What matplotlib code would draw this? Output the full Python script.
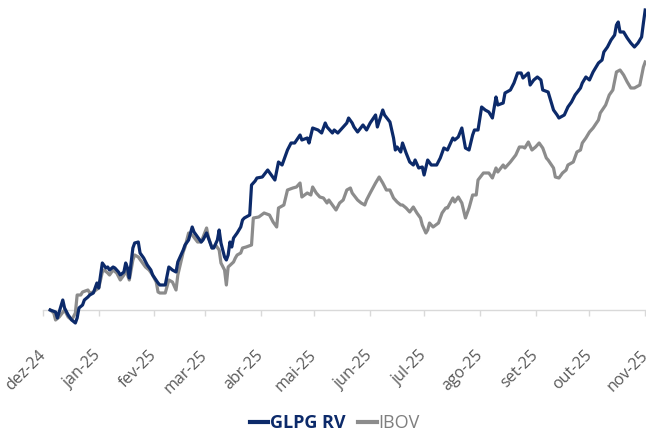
import matplotlib
matplotlib.use('Agg')
import matplotlib.pyplot as plt
import pandas as pd

plt.rcParams['font.family'] = ['Open Sans', 'DejaVu Sans']

start = pd.Timestamp('2024-12-01')

# days since 2024-12-01 / index (base 100)
glpg_days = [4, 7, 8, 9, 11, 12, 14, 16, 18, 19, 20, 22, 23, 25, 26, 28, 30, 31, 33, 35,
             36, 37, 39, 40, 42, 43, 45, 46, 47, 48, 50, 51, 53, 54, 56, 58, 60, 61, 64, 65,
             68, 70, 72, 74, 75, 78, 79, 81, 83, 84, 86, 88, 89, 91, 92, 94, 95, 97, 98, 99,
             101, 102, 103, 104, 105, 106, 108, 110, 111, 112, 115, 116, 118, 119, 122, 125, 127, 129, 131, 133,
             136, 138, 140, 143, 144, 147, 148, 150, 153, 155, 157, 158, 161, 162, 164, 167, 169, 170, 172, 173,
             175, 178, 180, 182, 185, 186, 189, 190, 193, 195, 196, 197, 199, 200, 202, 204, 206, 207, 209, 211,
             212, 214, 216, 219, 221, 223, 225, 228, 229, 231, 233, 235, 237, 239, 240, 242, 244, 246, 248, 250,
             252, 253, 256, 257, 260, 262, 264, 266, 267, 270, 271, 273, 275, 277, 278, 281, 282, 284, 286, 287,
             290, 292, 294, 296, 299, 300, 302, 304, 306, 309, 311, 312, 314, 316, 318, 319, 320, 321, 323, 325,
             327, 329, 331, 333, 334, 335]
glpg_vals = [100.0, 99.8, 99.2, 99.8, 101.0, 100.2, 99.5, 99.0, 98.7, 99.2, 100.2, 100.5, 101.0, 101.3, 101.5, 101.7, 102.7, 102.2, 104.7, 104.2,
             104.3, 104.0, 104.3, 104.2, 103.8, 103.5, 103.8, 104.7, 104.2, 103.2, 106.2, 106.7, 106.8, 105.7, 105.2, 104.5, 104.0, 103.5, 102.7, 102.5,
             102.5, 104.3, 104.0, 103.8, 104.8, 106.0, 106.5, 107.0, 108.3, 107.8, 107.3, 106.8, 107.0, 107.7, 107.2, 106.2, 106.2, 107.0, 108.0, 106.7,
             105.3, 105.0, 105.5, 106.8, 106.3, 107.2, 107.7, 108.3, 109.0, 109.2, 109.5, 112.5, 112.9, 113.2, 113.3, 114.0, 113.5, 113.0, 114.8, 114.5,
             116.0, 116.7, 116.7, 117.5, 117.0, 117.2, 116.7, 118.2, 118.0, 117.7, 118.7, 118.3, 117.7, 118.0, 117.7, 118.3, 118.7, 119.2, 118.7, 118.3,
             117.8, 118.5, 118.0, 118.7, 119.5, 118.3, 120.0, 119.5, 118.8, 117.2, 116.0, 116.3, 115.8, 116.7, 115.7, 114.8, 114.5, 115.0, 114.2, 114.3,
             113.5, 115.0, 114.5, 114.5, 115.2, 116.2, 116.0, 117.2, 117.0, 117.3, 118.2, 116.2, 116.0, 117.5, 118.0, 118.0, 120.3, 120.0, 119.8, 119.2,
             121.3, 120.5, 120.7, 121.7, 122.0, 122.7, 123.7, 123.7, 123.2, 123.7, 122.5, 123.0, 123.3, 123.0, 122.0, 121.8, 121.2, 120.0, 119.5, 119.2,
             119.5, 120.3, 120.8, 121.5, 122.2, 122.7, 123.3, 123.0, 123.8, 124.7, 125.0, 125.8, 126.3, 127.0, 127.5, 128.5, 128.8, 127.8, 127.8, 127.2,
             126.7, 126.3, 126.7, 127.3, 128.7, 130.0]

ibov_days = [4, 6, 7, 9, 12, 14, 16, 18, 19, 21, 22, 25, 26, 28, 31, 33, 34, 36, 37, 39,
             41, 43, 45, 46, 48, 50, 51, 53, 55, 57, 59, 61, 63, 64, 65, 68, 70, 72, 74, 75,
             78, 79, 81, 83, 86, 88, 91, 92, 94, 96, 98, 99, 101, 102, 103, 106, 107, 108, 110, 111,
             113, 116, 117, 120, 123, 126, 128, 130, 131, 134, 136, 139, 141, 143, 144, 147, 149, 150, 152, 154,
             156, 158, 159, 161, 163, 165, 167, 169, 171, 172, 175, 177, 179, 180, 182, 185, 187, 189, 191, 193,
             195, 197, 199, 200, 202, 204, 206, 208, 210, 211, 213, 214, 215, 217, 220, 222, 224, 225, 228, 229,
             231, 233, 235, 237, 239, 241, 242, 245, 248, 250, 252, 253, 256, 257, 260, 263, 265, 267, 268, 270,
             272, 274, 276, 278, 280, 281, 284, 285, 287, 289, 291, 292, 295, 297, 299, 300, 302, 304, 306, 309,
             310, 313, 315, 317, 319, 321, 323, 325, 327, 329, 332, 334, 335]
ibov_vals = [100.0, 99.7, 99.0, 99.3, 100.0, 99.3, 99.0, 99.7, 101.5, 101.5, 101.8, 102.0, 101.7, 101.8, 102.2, 103.8, 104.0, 103.7, 103.5, 104.0,
             103.7, 103.0, 103.5, 104.0, 103.0, 105.0, 105.5, 105.3, 104.8, 104.3, 104.0, 103.5, 102.8, 101.8, 101.7, 101.7, 103.0, 102.8, 102.0, 103.5,
             105.8, 106.3, 107.7, 107.5, 106.8, 106.8, 108.2, 107.3, 106.2, 106.5, 106.0, 104.7, 104.0, 102.5, 104.3, 104.8, 105.2, 105.5, 105.7, 106.2,
             106.3, 106.5, 109.2, 109.3, 109.7, 109.5, 108.8, 108.3, 110.2, 110.5, 112.0, 112.2, 112.3, 112.7, 111.3, 111.7, 111.5, 112.3, 111.7, 111.3,
             111.2, 110.7, 111.0, 110.5, 110.0, 110.7, 111.0, 112.0, 112.2, 111.7, 111.0, 110.7, 110.5, 111.0, 111.7, 112.7, 113.3, 112.7, 112.0, 112.0,
             111.2, 110.8, 110.5, 110.5, 110.2, 109.8, 110.3, 109.7, 109.2, 108.5, 107.7, 108.0, 108.7, 108.3, 108.7, 109.7, 110.2, 110.2, 111.2, 110.8,
             111.3, 110.7, 109.2, 110.2, 111.5, 111.5, 113.0, 113.7, 113.7, 113.2, 114.2, 113.8, 114.5, 114.2, 114.8, 115.5, 116.3, 116.3, 116.2, 116.8,
             116.0, 116.3, 116.7, 116.2, 115.2, 115.0, 114.2, 113.3, 113.2, 113.7, 114.0, 114.5, 114.8, 115.8, 116.0, 116.7, 117.2, 117.8, 118.2, 119.0,
             119.7, 120.5, 121.5, 122.0, 123.8, 124.0, 123.5, 122.8, 122.2, 122.2, 122.5, 124.3, 124.8]

month_labels = ['dez-24', 'jan-25', 'fev-25', 'mar-25', 'abr-25', 'mai-25',
                'jun-25', 'jul-25', 'ago-25', 'set-25', 'out-25', 'nov-25']

navy = '#0C2A6A'
grey = '#8C8C8C'

glpg_dates = start + pd.to_timedelta(glpg_days, unit='D')
ibov_dates = start + pd.to_timedelta(ibov_days, unit='D')
month_ticks = pd.date_range('2024-12-01', periods=len(month_labels), freq='MS')

fig = plt.figure(figsize=(6.46, 4.34), dpi=100)
ax = fig.add_axes([43 / 646, 99 / 434, 604 / 646, 335 / 434])

ax.plot(ibov_dates, ibov_vals, color=grey, lw=2.3, label='IBOV', clip_on=False, zorder=3)
ax.plot(glpg_dates, glpg_vals, color=navy, lw=2.3, label='GLPG RV', clip_on=False, zorder=4)

ax.set_xlim(start, pd.Timestamp('2025-11-02'))
ax.set_ylim(97.5, 131.0)

for s in ['top', 'right', 'left']:
    ax.spines[s].set_visible(False)
ax.spines['bottom'].set_position(('data', 100))
ax.spines['bottom'].set_color('#D9D9D9')
ax.spines['bottom'].set_linewidth(1.0)
ax.set_yticks([])

ax.set_xticks(month_ticks)
ax.set_xticklabels(month_labels, rotation=45, ha='right', va='center',
                   rotation_mode='anchor', fontsize=11.5, color='#595959')
ax.tick_params(axis='x', length=4, width=1, color='#D9D9D9', pad=27)

h, l = ax.get_legend_handles_labels()
leg = fig.legend(h[::-1], l[::-1], loc='center', bbox_to_anchor=(335 / 646, 11 / 434),
                 ncol=2, frameon=False, fontsize=13, handlelength=1.0,
                 handletextpad=0.1, columnspacing=0.7, labelcolor='linecolor')
leg.get_texts()[0].set_fontweight('bold')
leg.get_texts()[1].set_color('#7F7F7F')
for line in leg.get_lines():
    line.set_linewidth(3)

fig.savefig('out.png', dpi=100)
